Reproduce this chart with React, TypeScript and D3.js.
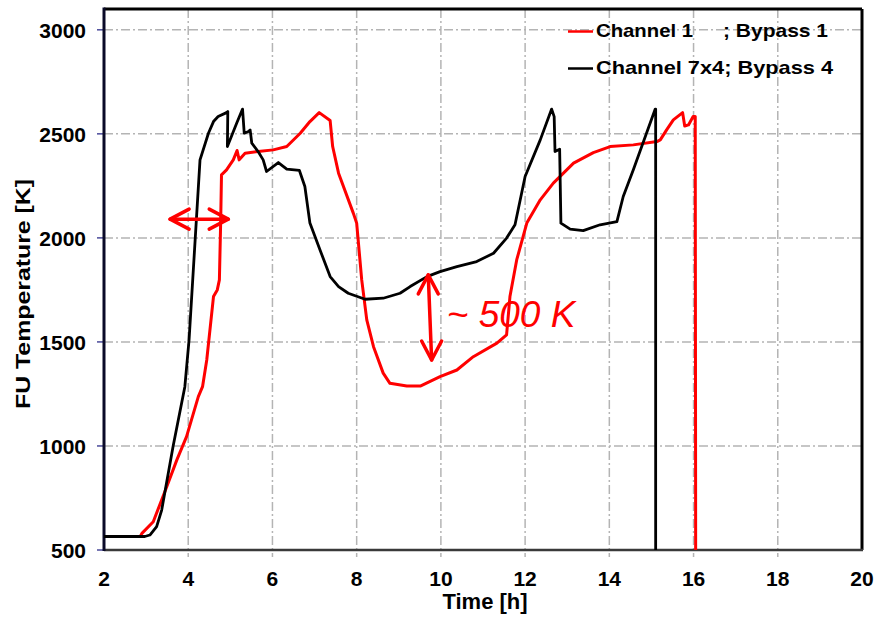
import React from "react";
import * as d3 from "d3";

// Fuel-unit temperature histories for two channel/bypass configurations
const ch1Time = [2.0, 2.86, 2.9, 3.17, 3.49, 3.73, 3.96, 4.24, 4.34, 4.44, 4.6, 4.69, 4.74, 4.77, 4.79, 4.91, 5.07, 5.16, 5.21, 5.35, 5.66, 6.02, 6.34, 6.66, 6.89, 7.11, 7.37, 7.43, 7.57, 7.92, 8.0, 8.12, 8.24, 8.4, 8.63, 8.79, 9.19, 9.51, 9.98, 10.38, 10.77, 11.33, 11.56, 11.64, 11.8, 12.04, 12.36, 12.67, 13.15, 13.62, 14.02, 14.57, 15.13, 15.21, 15.36, 15.52, 15.74, 15.79, 15.88, 15.99, 16.04, 16.05];
const ch1Temp = [565, 565, 580, 636, 804, 933, 1045, 1237, 1285, 1413, 1718, 1750, 1798, 2071, 2303, 2327, 2375, 2420, 2375, 2407, 2415, 2423, 2439, 2503, 2559, 2602, 2564, 2439, 2311, 2119, 2071, 1798, 1606, 1477, 1350, 1301, 1288, 1288, 1333, 1365, 1429, 1494, 1534, 1718, 1894, 2071, 2183, 2263, 2359, 2410, 2439, 2447, 2463, 2471, 2519, 2567, 2602, 2538, 2543, 2583, 2583, 500];

const ch7Time = [2.0, 2.97, 3.09, 3.25, 3.37, 3.64, 3.92, 4.02, 4.28, 4.48, 4.6, 4.71, 4.91, 4.94, 4.93, 5.15, 5.29, 5.33, 5.43, 5.47, 5.51, 5.66, 5.78, 5.86, 6.14, 6.34, 6.64, 6.77, 6.89, 7.13, 7.37, 7.57, 7.8, 8.2, 8.63, 9.03, 9.27, 9.67, 9.98, 10.38, 10.85, 11.25, 11.56, 11.76, 12.0, 12.36, 12.63, 12.69, 12.71, 12.82, 12.85, 13.07, 13.38, 13.78, 14.18, 14.33, 14.57, 15.09, 15.1, 15.1];
const ch7Temp = [565, 565, 572, 612, 692, 997, 1285, 1510, 2375, 2503, 2559, 2583, 2602, 2607, 2439, 2551, 2619, 2503, 2511, 2519, 2455, 2415, 2375, 2319, 2362, 2330, 2324, 2247, 2071, 1942, 1814, 1766, 1734, 1705, 1710, 1734, 1766, 1814, 1838, 1862, 1886, 1926, 1999, 2063, 2295, 2471, 2619, 2583, 2415, 2426, 2071, 2042, 2035, 2063, 2078, 2199, 2327, 2619, 2619, 500];

const xTicks = [2, 4, 6, 8, 10, 12, 14, 16, 18, 20];
const yTicks = [500, 1000, 1500, 2000, 2500, 3000];

const seriesNames = ["Channel 1", "; Bypass 1", "Channel 7x4; Bypass 4"];

// Annotation values: the start-up shift and the ~500 K gap
const shiftArrow = { t0: 3.57, t1: 4.95, T: 2090 };
const gapArrow = { t0: 9.7, T0: 1822, t1: 9.78, T1: 1413 };
const gapLabel = { t: 10.14, T: 1573, text: "~ 500 K" };

const W = 875;
const H = 618;
const FONT = "'Liberation Sans', Arial, Helvetica, sans-serif";

export default function App() {
  const x = d3.scaleLinear().domain([2, 20]).range([104, 862]);
  const y = d3.scaleLinear().domain([500, 3100]).range([550, 9]);

  const line = d3
    .line<[number, number]>()
    .x((d) => x(d[0]))
    .y((d) => y(d[1]));

  const ch1 = ch1Time.map((t, i) => [t, ch1Temp[i]] as [number, number]);
  const ch7 = ch7Time.map((t, i) => [t, ch7Temp[i]] as [number, number]);

  const red = "#ff0000";
  const grid = "#b4b4b4";

  // horizontal double arrow
  const hx0 = x(shiftArrow.t0);
  const hx1 = x(shiftArrow.t1);
  const hy = y(shiftArrow.T);
  // vertical double arrow
  const vx0 = x(gapArrow.t0);
  const vy0 = y(gapArrow.T0);
  const vx1 = x(gapArrow.t1);
  const vy1 = y(gapArrow.T1);

  return (
    <svg
      width={W}
      height={H}
      style={{ position: "absolute", left: 0, top: 0, background: "#fff" }}
      fontFamily={FONT}
    >
      <rect x={0} y={0} width={W} height={H} fill="#fff" />

      {/* grid */}
      {xTicks
        .filter((t) => t > 2 && t < 20)
        .map((t) => (
          <line
            key={"gx" + t}
            x1={x(t)}
            x2={x(t)}
            y1={y(3100)}
            y2={y(500) + 7}
            stroke={grid}
            strokeWidth={1.5}
            strokeDasharray="9,3,2,3"
          />
        ))}
      {yTicks
        .filter((v) => v > 500)
        .map((v) => (
          <line
            key={"gy" + v}
            x1={x(2)}
            x2={x(20)}
            y1={y(v)}
            y2={y(v)}
            stroke={grid}
            strokeWidth={1.5}
            strokeDasharray="9,3,2,3"
          />
        ))}

      {/* y tick marks */}
      {yTicks.map((v) => (
        <line
          key={"yt" + v}
          x1={x(2) - 7}
          x2={x(2)}
          y1={y(v)}
          y2={y(v)}
          stroke="#4a4a9a"
          strokeWidth={1.5}
        />
      ))}

      {/* frame */}
      <line x1={x(2)} x2={x(20)} y1={y(3100)} y2={y(3100)} stroke="#000" strokeWidth={3} />
      <line x1={x(20)} x2={x(20)} y1={y(3100)} y2={y(500)} stroke="#000" strokeWidth={3} />
      <line x1={x(2)} x2={x(20) + 1} y1={y(500)} y2={y(500)} stroke="#3a3a3a" strokeWidth={2.5} />
      <line x1={x(2)} x2={x(2)} y1={y(3100) - 1.5} y2={y(500) + 1} stroke="#0a0a28" strokeWidth={3} />

      {/* series */}
      <path
        d={line(ch1) || ""}
        fill="none"
        stroke={red}
        strokeWidth={3}
        strokeLinejoin="round"
      />
      <path
        d={line(ch7) || ""}
        fill="none"
        stroke="#000"
        strokeWidth={2.8}
        strokeLinejoin="round"
      />

      {/* annotations */}
      <g stroke={red} strokeWidth={3.5} fill="none" strokeLinecap="round" strokeLinejoin="round">
        <line x1={hx0} x2={hx1} y1={hy} y2={hy} />
        <polyline points={`${hx0 + 19},${hy - 10} ${hx0},${hy} ${hx0 + 19},${hy + 10}`} />
        <polyline points={`${hx1 - 19},${hy - 10} ${hx1},${hy} ${hx1 - 19},${hy + 10}`} />
        <line x1={vx0} x2={vx1} y1={vy0} y2={vy1} />
        <polyline points={`${vx0 - 10},${vy0 + 19} ${vx0},${vy0} ${vx0 + 10},${vy0 + 19}`} />
        <polyline points={`${vx1 - 10},${vy1 - 19} ${vx1},${vy1} ${vx1 + 10},${vy1 - 19}`} />
      </g>
      <text
        x={x(gapLabel.t)}
        y={y(gapLabel.T)}
        fill={red}
        fontSize={37}
        fontStyle="italic"
      >
        {gapLabel.text}
      </text>

      {/* y tick labels */}
      {yTicks.map((v) => (
        <text
          key={"yl" + v}
          x={86}
          y={y(v) + 8}
          textAnchor="end"
          fontSize={21}
          fontWeight="bold"
          fill="#000"
        >
          {v}
        </text>
      ))}

      {/* x tick labels */}
      {xTicks.map((t) => (
        <text
          key={"xl" + t}
          x={x(t)}
          y={586}
          textAnchor="middle"
          fontSize={21}
          fontWeight="bold"
          fill="#000"
        >
          {t}
        </text>
      ))}

      {/* axis titles */}
      <text x={485} y={609} textAnchor="middle" fontSize={22} fontWeight="bold" fill="#000">
        Time [h]
      </text>
      <text
        transform={`translate(30, 294) rotate(-90)`}
        textAnchor="middle"
        fontSize={20}
        fontWeight="bold"
        fill="#000"
        textLength={230}
        lengthAdjust="spacingAndGlyphs"
      >
        FU Temperature [K]
      </text>

      {/* legend */}
      <line x1={568} x2={593} y1={31.5} y2={31.5} stroke={red} strokeWidth={2.5} />
      <text x={596} y={37} fontSize={19} fontWeight="bold" fill="#000" textLength={97} lengthAdjust="spacingAndGlyphs">
        {seriesNames[0]}
      </text>
      <text x={723} y={37} fontSize={19} fontWeight="bold" fill="#000" textLength={105} lengthAdjust="spacingAndGlyphs">
        {seriesNames[1]}
      </text>
      <line x1={568} x2={593} y1={68.5} y2={68.5} stroke="#000" strokeWidth={2.5} />
      <text x={596} y={74} fontSize={19} fontWeight="bold" fill="#000" textLength={237} lengthAdjust="spacingAndGlyphs">
        {seriesNames[2]}
      </text>
    </svg>
  );
}
